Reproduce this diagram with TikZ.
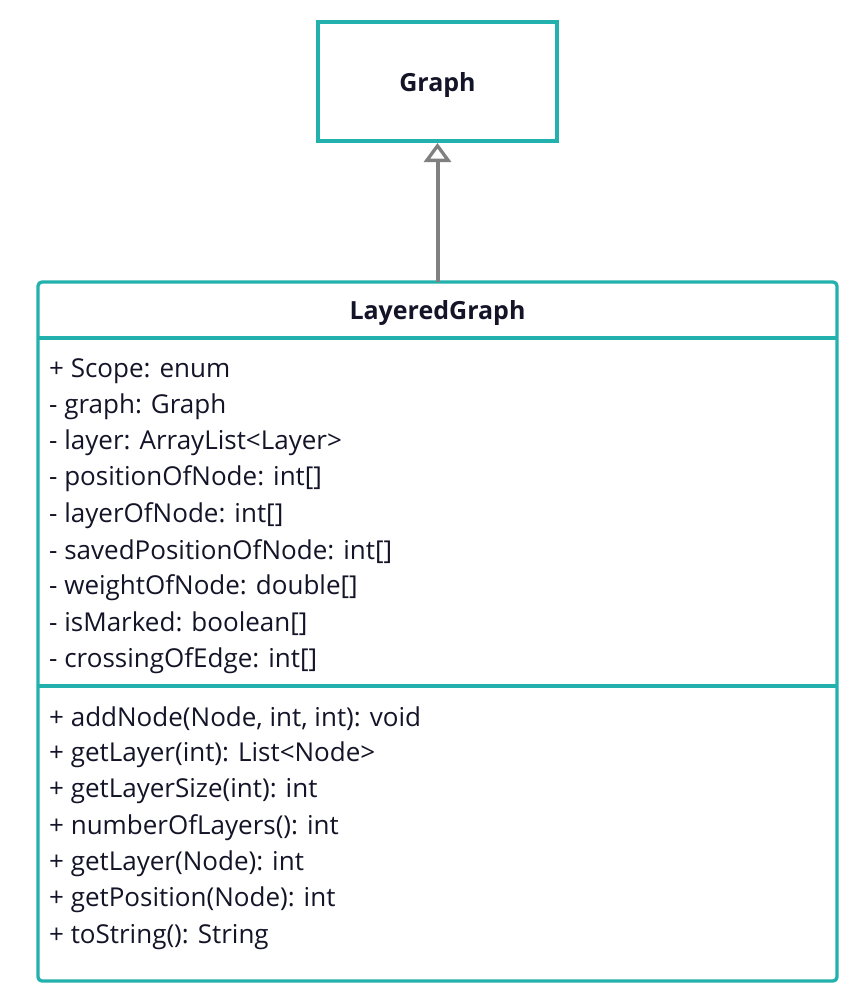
\documentclass[tikz,border=0pt]{standalone}
\usepackage{fontspec}
\setmainfont{Open Sans}
\usetikzlibrary{arrows.meta}
\definecolor{teal}{HTML}{22B1AC}
\definecolor{txt}{HTML}{141428}
\definecolor{arr}{HTML}{808080}
\tikzset{
  box/.style={draw=teal, line width=3.3pt},
  member/.style={anchor=west, inner sep=0pt, font=\fontsize{26}{30}\selectfont, text=txt},
  title/.style={inner sep=0pt, font=\fontsize{25}{30}\selectfont\bfseries, text=txt},
}
\begin{document}
\begin{tikzpicture}[x=1pt,y=-1pt]
\useasboundingbox (0,0) rectangle (857,990);
\draw[box] (318,22) rectangle (557,141);
\node[title] (g) at (437.5,85) {Graph};
\coordinate (gb) at (437.5,143);
\draw[box, rounded corners=4pt] (38,282) rectangle (837,981);
\coordinate (lt) at (437.5,282);
\draw[teal, line width=3.3pt] (38,338) -- (837,338);
\draw[teal, line width=3.3pt] (38,686) -- (837,686);
\node[title] (lg) at (437.5,313) {LayeredGraph};
\node[member] (a1) at (49,371) {+ Scope: enum};
\node[member] (a2) at (49,407) {- graph: Graph};
\node[member] (a3) at (49,443) {- layer: ArrayList<Layer>};
\node[member] (a4) at (49,479) {- positionOfNode: int[]};
\node[member] (a5) at (49,516) {- layerOfNode: int[]};
\node[member] (a6) at (49,552) {- savedPositionOfNode: int[]};
\node[member] (a7) at (49,588) {- weightOfNode: double[]};
\node[member] (a8) at (49,624) {- isMarked: boolean[]};
\node[member] (a9) at (49,661) {- crossingOfEdge: int[]};
\node[member] (m1) at (49,719) {+ addNode(Node, int, int): void};
\node[member] (m2) at (49,755) {+ getLayer(int): List<Node>};
\node[member] (m3) at (49,791) {+ getLayerSize(int): int};
\node[member] (m4) at (49,828) {+ numberOfLayers(): int};
\node[member] (m5) at (49,864) {+ getLayer(Node): int};
\node[member] (m6) at (49,900) {+ getPosition(Node): int};
\node[member] (m7) at (49,937) {+ toString(): String};
\draw[arr, line width=4pt, -{Triangle[open, width=27pt, length=19pt, line width=3.3pt]}] (lt) -- (gb);
\end{tikzpicture}
\end{document}
